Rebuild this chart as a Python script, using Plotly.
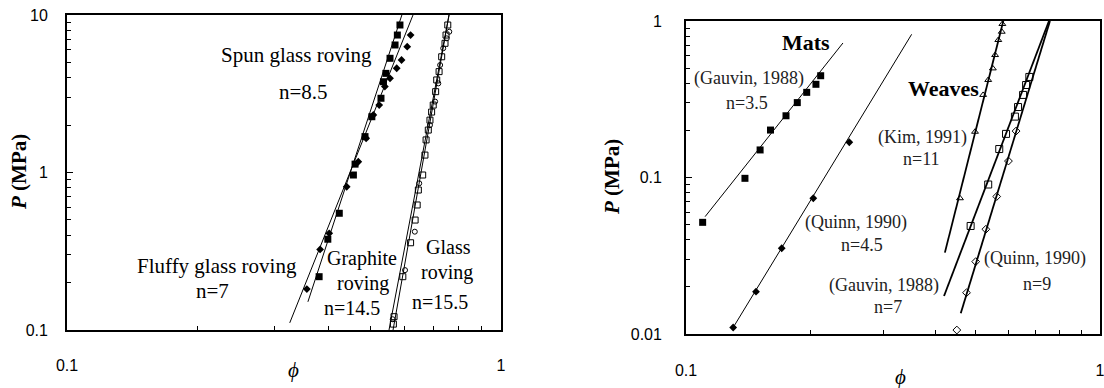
import plotly.graph_objects as go

W, H = 1104, 388

# ---------------- Left panel data (rovings) ----------------
spun_phi = [0.585, 0.577, 0.570, 0.555, 0.543, 0.536, 0.529, 0.504, 0.486, 0.461, 0.457, 0.424, 0.399, 0.381]
spun_P = [8.64, 7.46, 6.45, 5.31, 4.26, 3.77, 2.96, 2.26, 1.69, 1.13, 0.964, 0.551, 0.377, 0.218]

fluffy_phi = [0.619, 0.608, 0.590, 0.575, 0.555, 0.540, 0.524, 0.508, 0.489, 0.469, 0.441, 0.402, 0.383, 0.357]
fluffy_P = [7.46, 6.29, 5.18, 4.59, 3.96, 3.51, 2.68, 2.32, 1.65, 1.17, 0.812, 0.411, 0.325, 0.182]

glass_phi = [0.754, 0.747, 0.743, 0.730, 0.720, 0.711, 0.707, 0.698, 0.692, 0.686, 0.680, 0.672, 0.668,
             0.660, 0.645, 0.641, 0.634, 0.619, 0.594, 0.567, 0.565]
glass_P = [8.64, 7.46, 6.61, 5.43, 4.37, 3.87, 3.26, 2.68, 2.42, 2.15, 1.86, 1.61, 1.29,
           0.964, 0.774, 0.622, 0.499, 0.358, 0.218, 0.1215, 0.109]

graphite_phi = [0.760, 0.750, 0.736, 0.724, 0.717, 0.705, 0.686, 0.648, 0.633, 0.601, 0.563]
graphite_P = [7.83, 7.11, 6.15, 4.81, 3.68, 2.82, 2.00, 0.854, 0.421, 0.240, 0.117]

spun_fit_phi, spun_fit_P = [0.359, 0.591], [0.151, 10]
fluffy_fit_phi, fluffy_fit_P = [0.326, 0.627], [0.111, 10]
graphite_fit_phi, graphite_fit_P = [0.552, 0.759], [0.1, 10]
glass_fit_phi, glass_fit_P = [0.564, 0.759], [0.1, 10]

# ---------------- Right panel data (mats / weaves) ----------------
gauvin_mats_phi = [0.1097, 0.1388, 0.151, 0.160, 0.1744, 0.1857, 0.1957, 0.206, 0.2115]
gauvin_mats_P = [0.0517, 0.0988, 0.150, 0.201, 0.248, 0.301, 0.350, 0.394, 0.447]
gauvin_mats_fit_phi, gauvin_mats_fit_P = [0.1112, 0.2394], [0.0562, 0.7236]

quinn_mats_phi = [0.130, 0.1476, 0.1703, 0.203, 0.248]
quinn_mats_P = [0.0110, 0.01863, 0.0353, 0.0737, 0.168]
quinn_mats_fit_phi, quinn_mats_fit_P = [0.130, 0.3508], [0.0110, 0.822]

kim_phi = [0.581, 0.579, 0.568, 0.558, 0.551, 0.537, 0.522, 0.499, 0.459]
kim_P = [0.957, 0.854, 0.756, 0.606, 0.498, 0.420, 0.337, 0.196, 0.0737]
kim_fit_phi, kim_fit_P = [0.422, 0.584], [0.0331, 1.0]

gauvin_weaves_phi = [0.675, 0.663, 0.652, 0.634, 0.623, 0.593, 0.571, 0.537, 0.487]
gauvin_weaves_P = [0.439, 0.390, 0.337, 0.282, 0.245, 0.190, 0.152, 0.0902, 0.049]
gauvin_weaves_fit_phi, gauvin_weaves_fit_P = [0.420, 0.753], [0.0175, 1.0]

quinn_weaves_phi = [0.627, 0.601, 0.563, 0.530, 0.501, 0.476, 0.451]
quinn_weaves_P = [0.198, 0.1274, 0.0756, 0.0467, 0.029, 0.01836, 0.0106]
quinn_weaves_fit_phi, quinn_weaves_fit_P = [0.461, 0.757], [0.01356, 1.0]

# tick labels
left_x_ticks, left_x_text = [0.1, 1], ["0.1", "1"]
left_y_ticks, left_y_text = [0.1, 1, 10], ["0.1", "1", "10"]
right_x_ticks, right_x_text = [0.1, 1], ["0.1", "1"]
right_y_ticks, right_y_text = [0.01, 0.1, 1], ["0.01", "0.1", "1"]

fig = go.Figure()


def pts(x, y, xa, ya, symbol, size, open_=False):
    if open_:
        marker = dict(symbol=symbol, size=size, color="black", line=dict(color="black", width=1))
    else:
        marker = dict(symbol=symbol, size=size, color="black", line=dict(width=0))
    fig.add_trace(go.Scatter(x=x, y=y, xaxis=xa, yaxis=ya, mode="markers",
                             showlegend=False, marker=marker))


def fit(x, y, xa, ya, width=1.0):
    fig.add_trace(go.Scatter(
        x=x, y=y, xaxis=xa, yaxis=ya, mode="lines", showlegend=False,
        line=dict(color="black", width=width)))


# left
fit(spun_fit_phi, spun_fit_P, "x", "y")
fit(fluffy_fit_phi, fluffy_fit_P, "x", "y")
fit(graphite_fit_phi, graphite_fit_P, "x", "y")
fit(glass_fit_phi, glass_fit_P, "x", "y")
pts(spun_phi, spun_P, "x", "y", "square", 7)
pts(fluffy_phi, fluffy_P, "x", "y", "diamond", 6)
pts(glass_phi, glass_P, "x", "y", "square-open", 6, open_=True)
pts(graphite_phi, graphite_P, "x", "y", "circle-open", 5, open_=True)

# right
fit(gauvin_mats_fit_phi, gauvin_mats_fit_P, "x2", "y2")
fit(quinn_mats_fit_phi, quinn_mats_fit_P, "x2", "y2")
fit(kim_fit_phi, kim_fit_P, "x2", "y2", 1.8)
fit(gauvin_weaves_fit_phi, gauvin_weaves_fit_P, "x2", "y2", 1.8)
fit(quinn_weaves_fit_phi, quinn_weaves_fit_P, "x2", "y2", 1.8)
pts(gauvin_mats_phi, gauvin_mats_P, "x2", "y2", "square", 7)
pts(quinn_mats_phi, quinn_mats_P, "x2", "y2", "diamond", 6)
pts(kim_phi, kim_P, "x2", "y2", "triangle-up-open", 6, open_=True)
pts(gauvin_weaves_phi, gauvin_weaves_P, "x2", "y2", "square-open", 7, open_=True)
pts(quinn_weaves_phi, quinn_weaves_P, "x2", "y2", "diamond-open", 6, open_=True)

tickfont = dict(family="Liberation Sans, Arial, sans-serif", size=16, color="black")


def minor_vals(lo_exp, hi_exp):
    out = []
    for e in range(lo_exp, hi_exp):
        for d in range(2, 10):
            out.append(d * 10 ** e)
    return out


def axis(domain, rng, tv, tt, standoff, anchor, minors):
    return dict(
        type="log", domain=domain, range=rng, anchor=anchor, automargin=False,
        tickmode="array", tickvals=tv, ticktext=tt,
        ticks="inside", ticklen=6, tickwidth=1.2, tickcolor="black",
        minor=dict(tickmode="array", tickvals=minors, ticks="inside", ticklen=4,
                   tickwidth=1, tickcolor="black", showgrid=False),
        showline=True, linecolor="black", linewidth=1.8, mirror=True,
        showgrid=False, zeroline=False, tickfont=tickfont,
        ticklabelstandoff=standoff, ticklabeloverflow="allow",
    )


L_x0, L_x1, L_y0, L_y1 = 67, 501, 15, 330
R_x0, R_x1, R_y0, R_y1 = 686, 1100, 21, 334

fig.update_layout(
    width=W, height=H, margin=dict(l=0, r=0, t=0, b=0, autoexpand=False),
    paper_bgcolor="white", plot_bgcolor="white",
    xaxis=axis([L_x0 / W, L_x1 / W], [-1, 0], left_x_ticks, left_x_text, 20, "y", minor_vals(-1, 0)),
    yaxis=axis([1 - L_y1 / H, 1 - L_y0 / H], [-1, 1], left_y_ticks, left_y_text, 14, "x", minor_vals(-1, 1)),
    xaxis2=axis([R_x0 / W, R_x1 / W], [-1, 0], right_x_ticks, right_x_text, 21, "y2", minor_vals(-1, 0)),
    yaxis2=axis([1 - R_y1 / H, 1 - R_y0 / H], [-2, 0], right_y_ticks, right_y_text, 19, "x2", minor_vals(-2, 0)),
)

serif = "Liberation Serif, Times New Roman, serif"


def label(text, px, py, size=19, bold=False, angle=0, color="black"):
    t = f"<b>{text}</b>" if bold else text
    fig.add_annotation(text=t, x=px / W, y=1 - py / H, xref="paper", yref="paper",
                       xanchor="center", yanchor="middle", showarrow=False,
                       textangle=angle, font=dict(family=serif, size=size, color=color))


# left annotations
label("Spun glass roving", 296, 55, 21)
label("n=8.5", 303, 92, 21)
label("Fluffy glass roving", 217, 266, 21)
label("n=7", 212, 291, 21)
label("Graphite", 362, 258, 20)
label("roving", 363, 283, 20)
label("n=14.5", 352, 308, 20)
label("Glass", 448, 247, 20)
label("roving", 447, 272, 20)
label("n=15.5", 440, 302, 20)

# right annotations
label("Mats", 806, 42, 22, bold=True)
label("(Gauvin, 1988)", 749, 79, 18, color="#222")
label("n=3.5", 747, 103, 18, color="#222")
label("Weaves", 943, 89, 22, bold=True)
label("(Kim, 1991)", 922, 137, 18, color="#222")
label("n=11", 921, 159, 18, color="#222")
label("(Quinn, 1990)", 856, 223, 18, color="#222")
label("n=4.5", 862, 245, 18, color="#222")
label("(Gauvin, 1988)", 884, 285, 18, color="#222")
label("n=7", 888, 307, 18, color="#222")
label("(Quinn, 1990)", 1035, 258, 18, color="#222")
label("n=9", 1037, 284, 18, color="#222")

# axis titles
label("<i>P</i> (MPa)", 19, 172, 21, bold=True, angle=-90)
label("<i>P</i> (MPa)", 612, 177, 21, bold=True, angle=-90)
label("<i>ϕ</i>", 293, 370, 21)
label("<i>ϕ</i>", 900, 377, 21)

fig.write_html(
    "out.html",
    config={"displayModeBar": False},
    post_script="document.body.style.margin='0';document.body.style.padding='0';"
                "document.body.style.overflow='hidden';",
)
